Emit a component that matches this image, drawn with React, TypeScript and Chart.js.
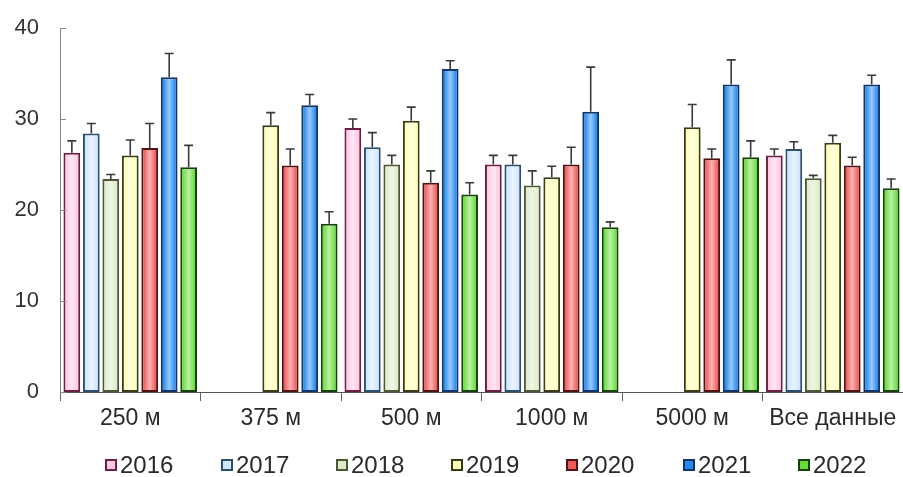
import React, { useEffect, useRef } from "react";
import { Chart, registerables } from "chart.js";

Chart.register(...registerables);

const categories = ["250 м", "375 м", "500 м", "1000 м", "5000 м", "Все данные"];
const years = ["2016", "2017", "2018", "2019", "2020", "2021", "2022"];

const v2016 = [26.3, null, 29.0, 25.0, null, 26.0];
const v2017 = [28.4, null, 26.9, 25.0, null, 26.7];
const v2018 = [23.4, null, 25.0, 22.7, null, 23.5];
const v2019 = [26.0, 29.3, 29.8, 23.6, 29.1, 27.4];
const v2020 = [26.8, 24.9, 23.0, 25.0, 25.7, 24.9];
const v2021 = [34.6, 31.5, 35.5, 30.8, 33.8, 33.8];
const v2022 = [24.7, 18.5, 21.7, 18.1, 25.8, 22.4];

const e2016 = [27.6, null, 30.0, 26.0, null, 26.7];
const e2017 = [29.5, null, 28.5, 26.0, null, 27.5];
const e2018 = [23.9, null, 26.0, 24.3, null, 23.8];
const e2019 = [27.7, 30.7, 31.3, 24.8, 31.6, 28.2];
const e2020 = [29.5, 26.7, 24.3, 26.9, 26.7, 25.8];
const e2021 = [37.2, 32.7, 36.4, 35.7, 36.5, 34.8];
const e2022 = [27.1, 19.8, 23.0, 18.7, 27.6, 23.4];

const yTicks = [0, 10, 20, 30, 40];

const values = [v2016, v2017, v2018, v2019, v2020, v2021, v2022];
const errors = [e2016, e2017, e2018, e2019, e2020, e2021, e2022];

const fills = ["#ffc8e4", "#cfe6ff", "#dcecc8", "#ffffb4", "#f05858", "#2088ee", "#66dd38"];
const borders = ["#6a2040", "#2e4e6e", "#4e5636", "#3a3a1c", "#4e1414", "#123468", "#18400c"];

const FONT = "'Liberation Sans', Arial, sans-serif";

const errorBarPlugin = {
  id: "errorBars",
  afterDatasetsDraw(chart: any) {
    const ctx = chart.ctx;
    const y = chart.scales.y;
    ctx.save();
    chart.data.datasets.forEach((ds: any, di: number) => {
      const meta = chart.getDatasetMeta(di);
      meta.data.forEach((bar: any, i: number) => {
        const val = ds.data[i];
        if (val === null || val === undefined) return;
        const { x, y: top, base, width } = bar.getProps(["x", "y", "base", "width"], true);
        const bw = 2;
        const l = x - width / 2 + bw;
        const r = x + width / 2 - bw;
        const g = ctx.createLinearGradient(l, 0, r, 0);
        g.addColorStop(0, "rgba(255,255,255,0)");
        g.addColorStop(0.5, "rgba(255,255,255,0.55)");
        g.addColorStop(1, "rgba(255,255,255,0)");
        ctx.fillStyle = g;
        ctx.fillRect(l, top + bw, r - l, base - top - bw * 2);
        const err = errors[di][i];
        if (err === null || err === undefined) return;
        const ey = y.getPixelForValue(err);
        ctx.strokeStyle = "#3a3a3a";
        ctx.lineWidth = 1.6;
        ctx.beginPath();
        ctx.moveTo(x, top);
        ctx.lineTo(x, ey);
        ctx.moveTo(x - 4.5, ey);
        ctx.lineTo(x + 4.5, ey);
        ctx.stroke();
      });
    });
    const left = chart.chartArea.left;
    ctx.strokeStyle = "#888";
    ctx.lineWidth = 1;
    yTicks.forEach((t) => {
      const py = Math.round(y.getPixelForValue(t)) + 0.5;
      ctx.beginPath();
      ctx.moveTo(left, py);
      ctx.lineTo(left + 6, py);
      ctx.stroke();
    });
    ctx.restore();
  },
};

export default function App() {
  const ref = useRef<HTMLCanvasElement | null>(null);
  useEffect(() => {
    document.body.style.margin = "0";
    const chart = new Chart(ref.current as HTMLCanvasElement, {
      type: "bar",
      data: {
        labels: categories,
        datasets: years.map((yr, i) => ({
          label: yr,
          data: values[i],
          backgroundColor: fills[i],
          borderColor: borders[i],
          borderWidth: 2,
          borderSkipped: false,
          categoryPercentage: 0.97,
          barPercentage: 0.86,
        })),
      },
      options: {
        animation: false,
        responsive: false,
        maintainAspectRatio: false,
        layout: { padding: { top: 28, right: 0, left: 0, bottom: 0 } },
        plugins: { legend: { display: false }, tooltip: { enabled: false } },
        scales: {
          x: {
            offset: true,
            grid: { display: true, offset: true, drawOnChartArea: false, drawTicks: true, tickLength: 9, color: "#666" },
            border: { display: true, color: "#555", width: 1 },
            ticks: { color: "#2a2a2a", font: { family: FONT, size: 23 }, padding: 4, maxRotation: 0 },
            afterFit: (s: any) => { s.height = 85; },
          },
          y: {
            min: 0,
            max: 40,
            afterBuildTicks: (s: any) => { s.ticks = yTicks.map((v) => ({ value: v })); },
            grid: { display: false, drawTicks: false },
            border: { display: true, color: "#888", width: 1 },
            ticks: { color: "#333", font: { family: FONT, size: 22 }, padding: 21 },
            afterFit: (s: any) => {
              s.width = 60;
              s.paddingTop = 0;
              s.paddingBottom = 0;
            },
          },
        },
      },
      plugins: [errorBarPlugin],
    });
    return () => chart.destroy();
  }, []);

  const legendX = [105, 221, 336, 451, 566, 683, 798];
  return (
    <div style={{ position: "relative", width: 903, height: 477, background: "#fff", fontFamily: FONT }}>
      <canvas ref={ref} width={903} height={477} style={{ position: "absolute", left: 0, top: 0 }} />
      {years.map((yr, i) => (
        <div
          key={yr}
          style={{
            position: "absolute",
            left: legendX[i],
            top: 452,
            height: 26,
            display: "flex",
            alignItems: "center",
            fontSize: 24,
            color: "#2a2a2a",
          }}
        >
          <span
            style={{
              display: "inline-block",
              width: 8,
              height: 8,
              border: `2px solid ${borders[i]}`,
              background: fills[i],
              marginRight: 3,
            }}
          />
          <span>{yr}</span>
        </div>
      ))}
    </div>
  );
}
